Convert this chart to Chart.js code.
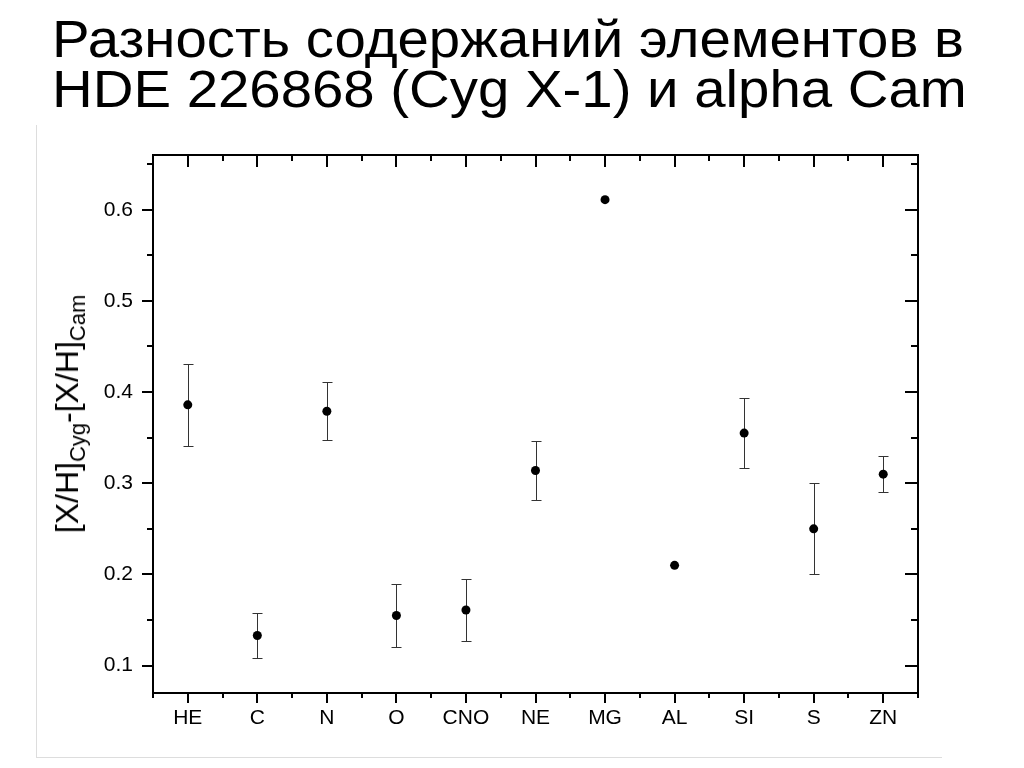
<!DOCTYPE html>
<html>
<head>
<meta charset="utf-8">
<script src="https://cdn.jsdelivr.net/npm/chart.js"></script>
<style>
    html, body { margin: 0; padding: 0; background: #fff; }
    #wrap { position: relative; width: 1024px; height: 768px; overflow: hidden; font-family: 'Liberation Sans', Arial, sans-serif; color: #000; }
    #title { position: absolute; left: 52px; top: 15px; font-size: 51px; line-height: 50px; white-space: nowrap; transform: scaleX(1.105); transform-origin: 0 0; }
    #box { position: absolute; left: 36px; top: 125px; width: 905px; height: 632px; border-left: 1px solid #ddd; border-bottom: 1px solid #ddd; }
    #ylab { position: absolute; left: 70px; top: 414px; transform: translate(-50%, -50%) rotate(-90deg); font-size: 32px; white-space: nowrap; }
    #ylab sub { font-size: 22px; vertical-align: -7px; }
    canvas { position: absolute; left: 0; top: 0; }
</style>
</head>
<body>
<div id="wrap">
    <div id="box"></div>
    <canvas id="grafico" width="1024" height="768"></canvas>
    <div id="title">Разность содержаний элементов в<br>HDE 226868 (Cyg X-1) и alpha Cam</div>
    <div id="ylab">[X/H]<sub>Cyg</sub>-[X/H]<sub>Cam</sub></div>
</div>
<script>
// elementos y diferencias de abundancia
const categorias = ['HE', 'C', 'N', 'O', 'CNO', 'NE', 'MG', 'AL', 'SI', 'S', 'ZN'];
const valores = [0.386, 0.133, 0.379, 0.155, 0.161, 0.314, 0.611, 0.210, 0.355, 0.250, 0.310];
const errores = [0.045, 0.025, 0.032, 0.035, 0.034, 0.032, null, null, 0.038, 0.050, 0.020];
const ticksY = [0.1, 0.2, 0.3, 0.4, 0.5, 0.6];

const fuente = { family: "'Liberation Sans', Arial, sans-serif", size: 21 };

// barras de error, debajo de los puntos
const barrasError = {
    id: 'barrasError',
    beforeDatasetsDraw(chart) {
        const { ctx, scales: { x, y } } = chart;
        ctx.save();
        ctx.strokeStyle = '#333';
        ctx.lineWidth = 1;
        valores.forEach((v, i) => {
            if (errores[i] == null) return;
            const px = Math.round(x.getPixelForValue(i)) + 0.5;
            const arriba = Math.round(y.getPixelForValue(v + errores[i])) + 0.5;
            const abajo = Math.round(y.getPixelForValue(v - errores[i])) + 0.5;
            ctx.beginPath();
            ctx.moveTo(px, arriba); ctx.lineTo(px, abajo);
            ctx.moveTo(px - 5, arriba); ctx.lineTo(px + 5, arriba);
            ctx.moveTo(px - 5, abajo); ctx.lineTo(px + 5, abajo);
            ctx.stroke();
        });
        ctx.restore();
    }
};

// marco con marcas en los cuatro lados (estilo Origin)
const marco = {
    id: 'marco',
    afterDraw(chart) {
        const { ctx, chartArea: a, scales: { x, y } } = chart;
        ctx.save();
        ctx.strokeStyle = '#000';
        ctx.lineWidth = 2;
        ctx.strokeRect(a.left, a.top, a.right - a.left, a.bottom - a.top);
        ctx.beginPath();
        for (let k = -1; k <= categorias.length * 2 - 1; k++) {
            const px = Math.round(x.getPixelForValue(k / 2));
            const mayor = k % 2 === 0;
            ctx.moveTo(px, a.bottom); ctx.lineTo(px, a.bottom + (mayor ? 10 : 5));
            ctx.moveTo(px, a.top); ctx.lineTo(px, a.top + (mayor ? 12 : 6));
        }
        for (let k = 2; k <= 13; k++) {
            const py = Math.round(y.getPixelForValue(k * 0.05));
            const mayor = k % 2 === 0;
            ctx.moveTo(a.left, py); ctx.lineTo(a.left - (mayor ? 11 : 6), py);
            ctx.moveTo(a.right, py); ctx.lineTo(a.right - (mayor ? 13 : 7), py);
        }
        ctx.stroke();
        ctx.restore();
    }
};

const ctx = document.getElementById('grafico').getContext('2d');
const myChart = new Chart(ctx, {
    type: 'line',
    data: {
        labels: categorias,
        datasets: [{
            data: valores,
            showLine: false,
            pointRadius: 4.5,
            pointBackgroundColor: '#000',
            pointBorderWidth: 0
        }]
    },
    options: {
        responsive: false,
        animation: false,
        layout: { padding: { top: 155, right: 106, left: 0, bottom: 0 } },
        plugins: { legend: { display: false }, tooltip: { enabled: false } },
        scales: {
            x: {
                type: 'category',
                offset: true,
                grid: { display: false, drawTicks: false },
                border: { display: false },
                ticks: { color: '#000', font: fuente, padding: 13, maxRotation: 0, autoSkip: false },
                afterFit: s => { s.height = 75; }
            },
            y: {
                min: 0.07,
                max: 0.66,
                grid: { display: false, drawTicks: false },
                border: { display: false },
                afterBuildTicks: s => { s.ticks = ticksY.map(v => ({ value: v })); },
                ticks: { color: '#000', font: fuente, padding: 20, callback: v => v.toFixed(1) },
                afterFit: s => { s.width = 153; }
            }
        }
    },
    plugins: [barrasError, marco]
});
</script>
</body>
</html>
